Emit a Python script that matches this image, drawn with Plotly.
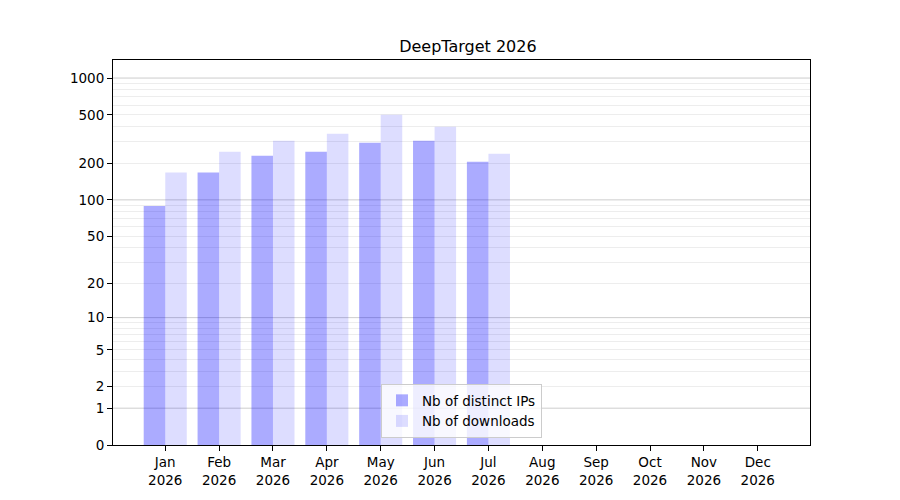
import numpy as np
import plotly.graph_objects as go

# monthly stats, values
months = ["Jan", "Feb", "Mar", "Apr", "May", "Jun", "Jul", "Aug", "Sep", "Oct", "Nov", "Dec"]
year = "2026"
distinct_ips = [89, 168, 231, 249, 295, 307, 206]
downloads = [168, 249, 307, 350, 501, 399, 240]

tick_labels = [0, 1, 2, 5, 10, 20, 50, 100, 200, 500, 1000]
major_grid = [1, 10, 100, 1000]
minor_grid = [m * 10 ** k for k in range(3) for m in range(2, 10)]


def tr(v):
    # y axis is log10(value + 1)
    return np.log10(np.asarray(v, dtype=float) + 1)


font = "DejaVu Sans"
x = np.arange(len(distinct_ips))

fig = go.Figure()
fig.add_bar(x=x, y=tr(distinct_ips), name="Nb of distinct IPs",
            marker=dict(color="rgba(0,0,255,0.33)", line=dict(width=0)))
fig.add_bar(x=x, y=tr(downloads), name="Nb of downloads",
            marker=dict(color="rgba(0,0,255,0.135)", line=dict(width=0)))

for v in major_grid:
    fig.add_shape(type="line", xref="paper", x0=0, x1=1, yref="y", y0=tr(v), y1=tr(v),
                  line=dict(color="rgba(0,0,0,0.2)", width=1), layer="below")

# page body has an 8px margin, so margins are offset by that
fig.update_layout(
    width=900, height=500,
    margin=dict(l=105, r=98, t=52, b=63),
    plot_bgcolor="white", paper_bgcolor="white",
    font=dict(family=font, size=13.5, color="black"),
    title=dict(text="DeepTarget 2026", x=0.511, xanchor="center", y=0.924, yanchor="middle",
               font=dict(size=16, family=font)),
    barmode="group", bargap=0.2, bargroupgap=0,
    legend=dict(x=0.5, xanchor="center", y=0.018, yanchor="bottom",
                bgcolor="rgba(255,255,255,0.8)", bordercolor="#cccccc", borderwidth=1,
                font=dict(size=13.5), tracegroupgap=0),
    showlegend=True,
)

fig.update_xaxes(
    range=[-0.97, 11.97],
    tickvals=list(range(len(months))),
    ticktext=[f"{m}<br>{year}" for m in months],
    showgrid=False, zeroline=False,
    ticks="outside", ticklen=5, tickcolor="black",
    showline=True, linecolor="black", linewidth=1, mirror=True,
)
fig.update_yaxes(
    range=[0, 3.148],
    tickvals=tr(tick_labels),
    ticktext=[str(t) for t in tick_labels],
    showgrid=False, zeroline=False,
    ticks="outside", ticklen=5, tickcolor="black",
    showline=True, linecolor="black", linewidth=1, mirror=True,
    minor=dict(tickvals=tr(minor_grid), showgrid=True, gridcolor="rgba(0,0,0,0.07)",
               gridwidth=1, ticks=""),
)

fig.write_html("out.html")
